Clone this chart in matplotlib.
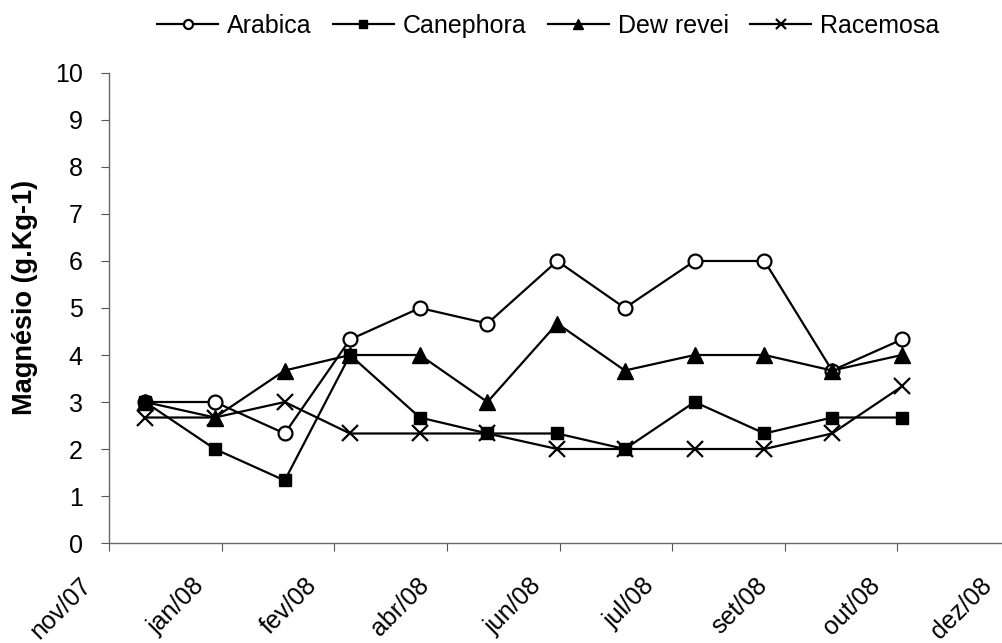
import datetime as dt
import matplotlib
matplotlib.use('Agg')
import matplotlib.pyplot as plt
import matplotlib.transforms as mtransforms

# monthly samples, dec/07 .. nov/08
dates = [dt.date(2007, 12, 1), dt.date(2008, 1, 1), dt.date(2008, 2, 1), dt.date(2008, 3, 1),
         dt.date(2008, 4, 1), dt.date(2008, 5, 1), dt.date(2008, 6, 1), dt.date(2008, 7, 1),
         dt.date(2008, 8, 1), dt.date(2008, 9, 1), dt.date(2008, 10, 1), dt.date(2008, 11, 1)]

arabica = [3, 3, 2.33, 4.33, 5, 4.67, 6, 5, 6, 6, 3.67, 4.33]
canephora = [3, 2, 1.33, 4, 2.67, 2.33, 2.33, 2, 3, 2.33, 2.67, 2.67]
dewrevei = [3, 2.67, 3.67, 4, 4, 3, 4.67, 3.67, 4, 4, 3.67, 4]
racemosa = [2.67, 2.67, 3, 2.33, 2.33, 2.33, 2, 2, 2, 2, 2.33, 3.33]

# Excel date axis: start 15/nov/07, major unit 50 days
tick_start = dt.date(2007, 11, 15)
tick_step = 50
tick_labels = ['nov/07', 'jan/08', 'fev/08', 'abr/08', 'jun/08', 'jul/08', 'set/08', 'out/08', 'dez/08']
ticks = [tick_start + dt.timedelta(days=tick_step * i) for i in range(len(tick_labels))]

plt.rcParams['font.family'] = ['Liberation Sans', 'DejaVu Sans']

fig = plt.figure(figsize=(10.02, 6.43), dpi=100)
ax = fig.add_axes([0.1088, 0.1555, 0.8992, 0.731])

lw = 1.6
ax.plot(dates, arabica, color='black', lw=lw, marker='o', ms=10, mfc='white', mec='black', mew=1.6, label='Arabica')
ax.plot(dates, canephora, color='black', lw=lw, marker='s', ms=9, mfc='black', mec='black', label='Canephora')
ax.plot(dates, dewrevei, color='black', lw=lw, marker='^', ms=11, mfc='black', mec='black', label='Dew revei')
ax.plot(dates, racemosa, color='black', lw=lw, marker='x', ms=11, mew=1.6, label='Racemosa')

ax.set_xlim(ticks[0], ticks[-1])
ax.set_ylim(0, 10)
ax.set_yticks(range(0, 11))
ax.set_xticks(ticks)
ax.set_xticklabels(tick_labels, rotation=45, ha='right', rotation_mode='anchor', fontsize=18)
ax.tick_params(axis='y', labelsize=18, direction='out', length=6, color='#555555', pad=13)
ax.tick_params(axis='x', direction='out', length=6, color='#555555', pad=16)

# labels sit a bit left of their ticks, like the excel original
shift = mtransforms.ScaledTranslation(-30 / 100, 0, fig.dpi_scale_trans)
for lab in ax.get_xticklabels():
    lab.set_transform(lab.get_transform() + shift)

for s in ['top', 'right']:
    ax.spines[s].set_visible(False)
for s in ['left', 'bottom']:
    ax.spines[s].set_color('#666666')
    ax.spines[s].set_linewidth(1.0)

ax.set_ylabel('Magnésio (g.Kg-1)', fontsize=19.5, fontweight='bold')
ax.yaxis.set_label_coords(-0.079, 0.523)

leg = fig.legend(loc='center', bbox_to_anchor=(0.547, 0.960), ncol=4, frameon=False,
                 prop={'size': 18}, markerscale=0.65,
                 handlelength=2.45, handletextpad=0.35, columnspacing=0.85)

fig.savefig('out.png', dpi=100)
